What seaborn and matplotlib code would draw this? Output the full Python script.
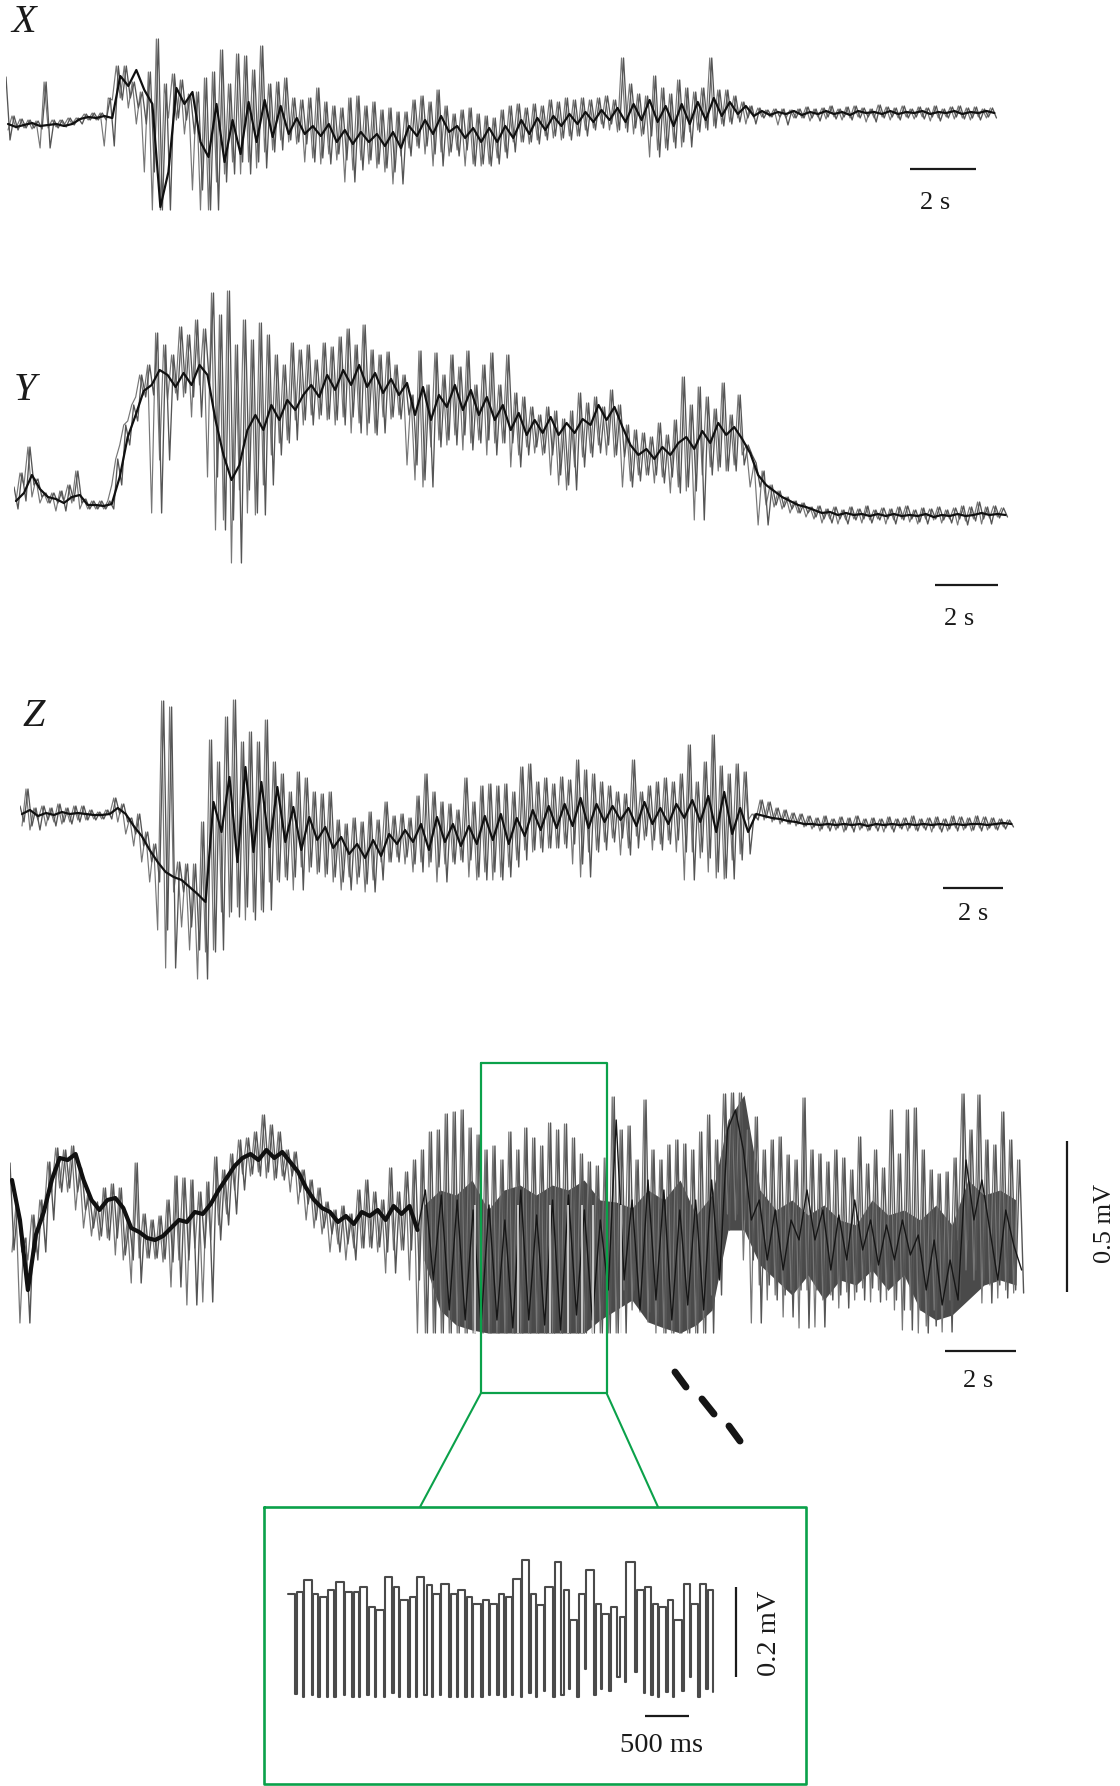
import matplotlib
matplotlib.use("Agg")
import matplotlib.pyplot as plt
import seaborn as sns
import numpy as np
import pandas as pd

# amplitudes are in 1/300 mV, one envelope pair and one core value per sample
x_hi = [35, -4, -7, -8, -9, 30, -8, -8, -6, -6,
        -2, -1, -1, 14, 46, 46, 30, 20, 40, 73,
        28, 38, 32, 18, 20, 34, 40, 62, 28, 58,
        56, 42, 66, 28, 30, 34, 14, 12, 14, 24,
        10, 6, 4, 14, 16, 6, 10, 2, 4, 0,
        0, 12, 16, 10, 22, 6, -2, 2, 4, -2,
        -4, -6, 2, 6, 8, 4, 8, 6, 12, 10,
        14, 12, 14, 12, 14, 16, 12, 54, 28, 18,
        16, 36, 24, 18, 32, 24, 20, 24, 54, 22,
        22, 16, 10, 6, 4, 2, 3, 3, 2, 3,
        5, 3, 4, 6, 3, 5, 6, 4, 3, 7,
        5, 4, 6, 3, 5, 4, 6, 3, 5, 6,
        4, 5, 3, 4]
x_lo = [-28, -18, -16, -16, -17, -36, -16, -15, -13, -12,
        -8, -8, -8, -34, 12, 14, 4, -12, -60, -98,
        -98, -6, -8, -22, -78, -98, -98, -70, -62, -50,
        -62, -50, -56, -40, -38, -28, -30, -32, -50, -46,
        -52, -42, -48, -70, -58, -48, -52, -56, -60, -72,
        -44, -36, -34, -42, -54, -40, -44, -38, -54, -52,
        -54, -52, -46, -40, -30, -30, -32, -28, -24, -26,
        -28, -24, -24, -18, -16, -12, -18, -20, -16, -22,
        -24, -45, -38, -36, -30, -35, -20, -18, -16, -14,
        -12, -10, -6, -12, -6, -5, -5, -13, -6, -6,
        -6, -9, -5, -7, -5, -8, -6, -5, -10, -6,
        -5, -8, -6, -5, -7, -5, -9, -6, -5, -7,
        -6, -8, -5, -6]
x_core = [-12, -15, -13, -11, -14, -13, -12, -14, -12, -7,
          -5, -6, -4, -6, 36, 26, 42, 22, 8, -95,
          -60, 24, 8, 20, -30, -45, 8, -50, -8, -42,
          10, -30, 12, -25, 6, -22, -6, -22, -14, -24,
          -12, -30, -18, -32, -20, -30, -22, -34, -20, -36,
          -14, -24, -8, -22, -4, -20, -14, -26, -16, -30,
          -16, -30, -14, -26, -8, -22, -6, -18, -4, -14,
          -2, -12, 0, -10, 2, -8, 4, -10, 8, -8,
          12, -10, 6, -14, 8, -12, 10, -8, 14, -4,
          10, -2, 6, -4, 1, -3, 0, -2, 1, -3,
          0, -2, 1, -2, 0, -3, 1, -1, 0, -2,
          1, -2, 0, -1, 1, -2, 0, -1, 1, -2,
          0, -1, 1, -1]

y_hi = [28, 42, 68, 36, 22, 22, 24, 30, 44, 16,
        14, 14, 14, 56, 90, 110, 140, 150, 182, 170,
        160, 188, 180, 195, 186, 222, 200, 224, 170, 195,
        175, 192, 180, 160, 150, 172, 165, 170, 155, 172,
        168, 178, 186, 170, 190, 165, 160, 163, 150, 140,
        120, 164, 130, 162, 140, 160, 148, 164, 130, 150,
        162, 130, 160, 122, 118, 108, 100, 108, 104, 96,
        104, 122, 112, 118, 108, 125, 110, 90, 85, 82,
        78, 92, 80, 95, 138, 110, 128, 118, 106, 132,
        100, 120, 70, 52, 44, 30, 24, 18, 14, 12,
        8, 9, 6, 8, 5, 8, 6, 9, 5, 7,
        6, 8, 9, 5, 7, 6, 8, 5, 7, 9,
        8, 13, 8, 9, 7]
y_lo = [6, 14, 30, 18, 12, 12, 4, 14, 12, 6,
        6, 6, 6, 30, 70, 94, 118, 120, 2, 55,
        115, 122, 118, 98, 130, 38, -15, -5, -48, 25,
        2, 0, 30, 60, 72, 75, 95, 90, 100, 96,
        95, 90, 98, 82, 92, 80, 82, 98, 96, 100,
        50, 35, 28, 68, 75, 70, 80, 65, 72, 75,
        60, 72, 72, 48, 60, 68, 62, 60, 40, 30,
        25, 48, 58, 62, 70, 60, 58, 28, 34, 40,
        40, 32, 38, 22, 28, 24, -5, 40, 48, 44,
        44, 50, 60, 28, -10, 10, 8, 6, 2, 2,
        -2, -4, -8, -4, -9, -5, -4, -8, -5, -4,
        -9, -5, -4, -7, -9, -4, -5, -8, -4, -10,
        -6, -4, -9, -3, -2]
y_core = [14, 22, 40, 26, 18, 16, 12, 18, 20, 10,
          10, 9, 11, 38, 78, 100, 124, 130, 145, 140,
          128, 142, 130, 150, 140, 95, 60, 35, 50, 85,
          100, 85, 110, 95, 115, 105, 120, 130, 118, 140,
          125, 145, 130, 150, 128, 142, 122, 136, 120, 132,
          100, 128, 95, 120, 108, 130, 105, 125, 100, 118,
          95, 110, 85, 102, 80, 95, 82, 98, 80, 92,
          82, 96, 90, 110, 95, 108, 88, 70, 60, 66,
          56, 68, 60, 72, 78, 66, 84, 72, 92, 80,
          88, 76, 62, 40, 30, 24, 18, 14, 10, 8,
          5, 2, 3, 0, 2, 0, 1, -1, 1, -1,
          1, -1, 0, -1, 1, -2, 0, -1, 1, -1,
          0, 2, 0, 1, 0]

z_hi = [16, 33, 14, 16, 14, 18, 14, 16, 16, 12,
        10, 12, 24, 18, 4, 8, -10, -22, 121, 115,
        -40, -42, -42, 0, 82, 60, 105, 122, 80, 90,
        80, 102, 60, 48, 30, 50, 44, 30, 28, 30,
        2, -2, 4, 0, 10, 2, 20, 6, 8, 4,
        26, 48, 30, 20, 18, 12, 44, 20, 36, 38,
        36, 38, 30, 55, 58, 40, 44, 38, 45, 42,
        62, 52, 48, 40, 36, 30, 28, 62, 30, 36,
        40, 44, 40, 48, 77, 40, 60, 87, 56, 48,
        58, 50, 8, 22, 20, 14, 12, 9, 8, 6,
        4, 6, 3, 5, 4, 6, 3, 4, 3, 5,
        3, 4, 6, 3, 4, 5, 3, 6, 5, 4,
        6, 5, 4, 3, 2]
z_lo = [0, -4, -8, 2, -4, 0, -2, 0, 2, 2,
        3, 3, 8, 0, -12, -24, -40, -60, -108, -146,
        -70, -105, -128, -157, -130, -128, -90, -95, -85, -98,
        -90, -88, -60, -58, -55, -68, -45, -50, -52, -55,
        -60, -68, -55, -62, -70, -58, -40, -40, -35, -42,
        -50, -40, -45, -60, -42, -40, -38, -55, -58, -50,
        -58, -55, -45, -38, -28, -30, -26, -26, -26, -22,
        -42, -55, -30, -28, -20, -16, -33, -26, -14, -18,
        -28, -22, -18, -30, -58, -30, -36, -50, -56, -57,
        -38, -32, 2, 4, 2, 0, -2, -2, -4, -5,
        -7, -9, -6, -8, -10, -6, -8, -9, -6, -10,
        -7, -6, -9, -8, -6, -10, -7, -9, -6, -8,
        -9, -6, -8, -7, -5]
z_core = [8, 12, 6, 9, 7, 10, 8, 9, 8, 7,
          7, 8, 14, 8, -4, -14, -28, -40, -50, -55,
          -58, -65, -72, -80, 20, -10, 45, -40, 55, -30,
          40, -25, 35, -20, 15, -28, 5, -18, -5, -26,
          -15, -32, -22, -36, -18, -34, -12, -22, -8, -20,
          -2, -28, 5, -20, -2, -24, -4, -22, 6, -18,
          8, -22, 4, -14, 12, -8, 16, -6, 18, -4,
          24, -6, 18, 0, 16, 2, 14, -4, 20, -2,
          14, -2, 18, 4, 22, 0, 26, -10, 30, -12,
          14, -10, 8, 6, 4, 3, 1, 0, -2, -2,
          -3, -2, -3, -2, -3, -2, -4, -2, -3, -2,
          -3, -2, -3, -2, -3, -2, -3, -2, -3, -2,
          -2, -3, -2, -1, -2]

b_hi = [87, 45, 12, 35, 50, 88, 102, 100, 104, 82,
        55, 48, 62, 66, 62, 30, 87, 36, 30, 34,
        50, 74, 72, 70, 58, 68, 93, 80, 96, 110,
        112, 118, 135, 125, 118, 100, 98, 80, 70, 62,
        48, 40, 44, 36, 60, 70, 58, 50, 82, 58,
        78, 90, 100, 118, 120, 136, 138, 140, 122, 115,
        100, 104, 90, 118, 100, 122, 112, 104, 127, 120,
        126, 112, 96, 88, 84, 92, 153, 120, 124, 90,
        150, 100, 90, 105, 110, 106, 100, 118, 135, 110,
        156, 157, 157, 120, 133, 100, 110, 113, 95, 90,
        152, 100, 96, 88, 100, 92, 80, 113, 86, 100,
        82, 140, 96, 140, 142, 100, 80, 76, 78, 92,
        156, 120, 155, 110, 105, 138, 110, 90]
b_lo = [0, -2, -73, -10, -2, 30, 58, 62, 58, 40,
        22, 14, 10, 12, -5, -10, -33, -8, -8, -9,
        -12, -37, -10, -55, 2, -52, 10, 25, 36, 60,
        76, 74, 78, 72, 70, 74, 58, 46, 30, 22,
        16, -2, 6, -10, 2, 2, 3, -2, -23, 0,
        0, -30, -83, -83, -83, -83, -83, -83, -83, -83,
        -83, -83, -83, -83, -83, -83, -83, -83, -83, -83,
        -83, -83, -83, -83, -83, -83, -83, -83, -40, -60,
        -62, -72, -83, -83, -83, -83, -83, -83, -83, -45,
        20, 36, 30, -10, -73, -35, -50, -45, -67, -40,
        -78, -40, -77, -50, -45, -58, -42, -50, -38, -52,
        -40, -50, -60, -80, -60, -83, -76, -60, -82, -50,
        10, -20, -30, -53, -35, -48, -40, -43]
b_core = [70, 30, -40, 15, 38, 70, 92, 90, 96, 70,
          50, 40, 50, 52, 42, 22, 18, 12, 10, 14,
          22, 30, 28, 38, 36, 46, 60, 72, 84, 92,
          96, 90, 100, 92, 98, 88, 78, 62, 50, 42,
          38, 28, 34, 26, 38, 34, 40, 30, 44, 36,
          44, 20, 60, -30, 55, -60, 50, -70, 40, -75,
          45, -70, 30, -78, 60, -70, 35, -75, 50, -80,
          55, -65, 40, -70, 30, -40, 130, -30, 50, -60,
          70, -50, 60, -70, 40, -55, 50, -60, 70, -30,
          120, 140, 100, 30, 50, -10, 40, -20, 30, 10,
          60, 10, 40, -20, 35, -10, 50, 0, 30, -15,
          25, -10, 30, -5, 15, -40, 10, -55, -10, -50,
          90, 30, 70, 20, -30, 40, 5, -20]
band_top = [45, 60, 55, 70, 40, 60, 65, 55, 65, 60, 70, 50, 48, 42, 60, 50, 70, 35, 55,
            130, 155, 60, 40, 50, 35, 45, 30, 25, 50, 35, 40, 30, 45, 25, 70, 55, 60, 50]
band_bot = [-10, -60, -75, -80, -83, -83, -83, -83, -83, -83, -83, -70, -60, -50, -72, -78, -83, -75, -60,
            20, 20, -15, -30, -45, -25, -50, -30, -35, -20, -40, -25, -60, -70, -65, -50, -35, -30, -35]
slit_sec = [1.55, 2.85, 3.82, 4.36, 4.79, 5.12, 5.97]

inset_hi = [103, 105, 117, 103, 100, 107, 115, 105, 105, 110,
            90, 87, 120, 110, 97, 100, 120, 112, 103, 113,
            103, 107, 100, 93, 97, 93, 103, 100, 118, 137,
            103, 92, 110, 135, 107, 77, 103, 127, 93, 83,
            90, 80, 135, 107, 110, 93, 90, 97, 77, 113,
            93, 113, 107]
inset_lo = [3, 0, 2, 0, 0, 0, 2, 0, 0, 2,
            0, 0, 4, 0, 0, 0, 2, 0, 2, 0,
            0, 0, 0, 0, 2, 2, 0, 2, 0, 4,
            0, 6, 0, 2, 8, 0, 28, 2, 8, 6,
            20, 15, 25, 4, 2, 0, 5, 0, 6, 20,
            0, 8, 5]
inset_top_dwell = [7, 6, 8, 5, 7, 6, 8, 7, 5, 7,
                   6, 8, 7, 5, 8, 6, 7, 5, 7, 8,
                   6, 7, 5, 8, 6, 7, 5, 6, 8, 7,
                   5, 7, 8, 6, 5, 7, 6, 8, 5, 7,
                   6, 5, 9, 7, 6, 5, 7, 5, 8, 6,
                   7, 6, 5]
inset_low_dwell = [1, 2, 1, 1, 2, 1, 2, 1, 2, 1,
                   2, 1, 1, 2, 1, 2, 1, 3, 1, 1,
                   2, 1, 2, 1, 2, 1, 2, 2, 1, 1,
                   2, 1, 1, 2, 3, 1, 2, 1, 2, 1,
                   2, 3, 1, 2, 1, 2, 1, 2, 1, 2,
                   1, 2, 2]

FIG_W, FIG_H = 1120, 1786
sns.set_theme(style="white")
plt.rcParams["font.family"] = ["Liberation Serif", "DejaVu Serif"]
GREEN = "#0ba14a"
TRACE = "#555555"
INK = "#1a1a1a"

fig = plt.figure(figsize=(FIG_W / 100, FIG_H / 100), dpi=100)
page = fig.add_axes([0, 0, 1, 1], zorder=5)
page.set_xlim(0, FIG_W)
page.set_ylim(FIG_H, 0)
page.axis("off")
page.patch.set_alpha(0)


def panel(left, base, above, below, width):
    # one amplitude unit is one pixel, 33 pixels to the second
    ax = fig.add_axes([left / FIG_W, (FIG_H - base - below) / FIG_H, width / FIG_W, (above + below) / FIG_H])
    ax.set_xlim(0, width / 33)
    ax.set_ylim(-below, above)
    ax.axis("off")
    return ax


def traza(ax, hi, lo, core, sample_px, lw=0.95, core_lw=1.6, fino=None):
    step = sample_px / 33
    hi = np.array(hi)
    lo = np.array(lo)
    core = np.array(core)
    t = np.arange(len(hi)) * step
    # second pass between the samples, neighbours swapped, so the trace reads denser
    zig2 = pd.DataFrame({"t": np.column_stack([t[:-1] + step * 0.25, t[:-1] + step * 0.75]).ravel(),
                         "v": np.column_stack([lo[1:], hi[1:]]).ravel()})
    sns.lineplot(data=zig2, x="t", y="v", ax=ax, color="#777777", lw=lw * 0.9, estimator=None, sort=False)
    zig = pd.DataFrame({"t": np.column_stack([t, t + step / 2]).ravel(),
                        "v": np.column_stack([hi, lo]).ravel()})
    sns.lineplot(data=zig, x="t", y="v", ax=ax, color=TRACE, lw=lw, estimator=None, sort=False)
    corte = len(core) if fino is None else fino
    sns.lineplot(x=t[:corte] + step / 4, y=core[:corte], ax=ax, color="#101010", lw=core_lw,
                 estimator=None, sort=False)
    if fino is not None:
        sns.lineplot(x=t[corte - 1:] + step / 4, y=core[corte - 1:], ax=ax, color="#161616", lw=1.0,
                     estimator=None, sort=False)


def barra(x0, y0, x1, y1, lw=1.6):
    page.plot([x0, x1], [y0, y1], color=INK, lw=lw, solid_capstyle="butt")


ax_x = panel(6, 112, 80, 100, 1010)
traza(ax_x, x_hi, x_lo, x_core, 8.02)
ax_y = panel(14, 515, 230, 50, 1010)
traza(ax_y, y_hi, y_lo, y_core, 7.98)
ax_z = panel(20, 822, 130, 160, 1010)
traza(ax_z, z_hi, z_lo, z_core, 7.98)

ax_b = panel(10, 1250, 170, 90, 1030)
tb = np.arange(len(band_top)) * 16 / 33 + 414 / 33
ax_b.fill_between(tb, band_bot, band_top, color="#4a4a4a", lw=0)
traza(ax_b, b_hi, b_lo, b_core, 7.95, lw=1.0, core_lw=3.0, fino=52)
ax_b.vlines(np.array(slit_sec) + 414 / 33, -83, 45, color="#e8e8e8", lw=1.1)

ax_i = panel(287, 1697, 150, 10, 440)
t_i = np.cumsum(np.column_stack([inset_low_dwell, inset_top_dwell]).ravel()) / 33
sq = pd.DataFrame({"t": t_i, "v": np.column_stack([inset_hi, inset_lo]).ravel()})
sns.lineplot(data=sq, x="t", y="v", ax=ax_i, color="#4a4a4a", lw=1.5, estimator=None, sort=False,
             drawstyle="steps-post")

# green zoom frames
page.plot([481, 606.5, 606.5, 481, 481], [1063, 1063, 1393, 1393, 1063], color=GREEN, lw=1.6)
page.plot([264, 806, 806, 264, 264], [1507, 1507, 1784, 1784, 1507], color=GREEN, lw=1.9)
page.plot([481, 420], [1393, 1507], color=GREEN, lw=1.5)
page.plot([606.5, 658], [1393, 1507], color=GREEN, lw=1.5)

# dashes after the trace
for x0, y0, x1, y1 in [(675, 1372, 686, 1387), (702, 1399, 714, 1414), (729, 1426, 740, 1441)]:
    page.plot([x0, x1], [y0, y1], color="#151515", lw=5, solid_capstyle="round")

for nome, px, py in [("X", 24, 23), ("Y", 25, 391), ("Z", 34, 716)]:
    page.text(px, py, nome, fontsize=29, style="italic", ha="center", va="center", color=INK)

barra(909.5, 169, 975.5, 169)
page.text(935, 203, "2 s", fontsize=19, ha="center", va="center", color=INK)
barra(934.5, 585, 997.5, 585)
page.text(959, 619, "2 s", fontsize=19, ha="center", va="center", color=INK)
barra(942.5, 888, 1002.5, 888)
page.text(973, 914, "2 s", fontsize=19, ha="center", va="center", color=INK)
barra(944.5, 1351, 1015.5, 1351)
page.text(978, 1381, "2 s", fontsize=19, ha="center", va="center", color=INK)
barra(1067, 1141, 1067, 1292)
page.text(1105, 1223, "0.5 mV", fontsize=19, rotation=90, ha="center", va="center", color=INK)
barra(645, 1716, 689, 1716)
page.text(661, 1746, "500 ms", fontsize=20.5, ha="center", va="center", color=INK)
barra(735.5, 1587, 735.5, 1677)
page.text(769, 1633, "0.2 mV", fontsize=20.5, rotation=90, ha="center", va="center", color=INK)

fig.savefig("out.png", dpi=100)
plt.close(fig)
